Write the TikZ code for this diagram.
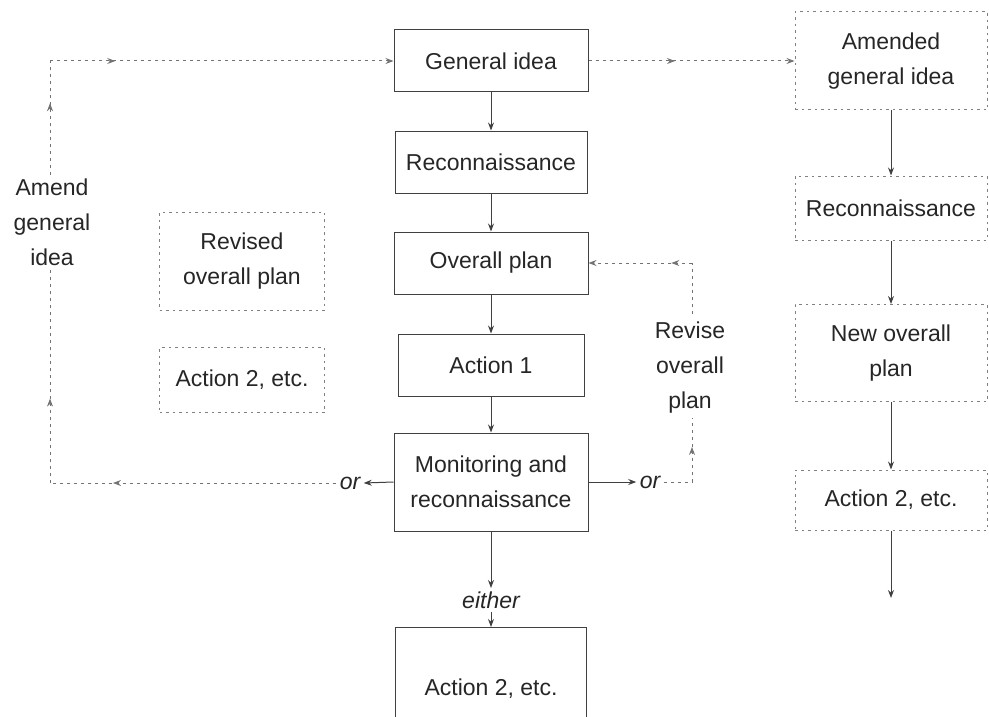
\documentclass[tikz,border=0pt]{standalone}
\usepackage{fontspec}
\setmainfont{Liberation Sans}
\usetikzlibrary{arrows.meta,decorations.markings}
\begin{document}
\begin{tikzpicture}[x=1pt,y=-1pt,
  every node/.style={font=\fontsize{23}{35}\selectfont, text=black!85, align=center},
  solidbox/.style={draw=black!75, line width=1pt, inner sep=0pt},
  dotbox/.style={draw=black!50, line width=1pt, dash pattern=on 2.5pt off 4pt, inner sep=0pt},
  tip/.style={-{Stealth[length=8pt,width=6pt]}},
  conn/.style={draw=black!75, line width=1pt, tip},
  dconn/.style={draw=black!55, line width=1pt, dash pattern=on 3pt off 4pt},
  lab/.style={font=\fontsize{23}{35}\selectfont\itshape}
]
\useasboundingbox (0,0) rectangle (989,717);

% centre column
\node[solidbox, minimum width=194pt, minimum height=62pt] (gen) at (491,61) {General idea};
\node[solidbox, minimum width=192pt, minimum height=62pt] (rec) at (491,162) {Reconnaissance};
\node[solidbox, minimum width=194pt, minimum height=62pt] (ovp) at (491,263) {Overall plan};
\node[solidbox, minimum width=186pt, minimum height=62pt] (act1) at (491,365) {Action 1};
\node[solidbox, minimum width=194pt, minimum height=98pt] (mon) at (491,482) {Monitoring and\\reconnaissance};
\node[lab] (either) at (491,600) {either};
\node[minimum width=190pt, minimum height=100pt, inner sep=0pt, anchor=north] (a2frame) at (491,627) {};
\node (a2b) at (491,689) {Action 2, etc.};
\draw[black!75, line width=1pt] (a2frame.south west) -- (a2frame.north west) -- (a2frame.north east) -- (a2frame.south east);

\draw[conn] (gen) -- (rec);
\draw[conn] (rec) -- (ovp);
\draw[conn] (ovp) -- (act1);
\draw[conn] (act1) -- (mon);
\draw[conn] (mon) -- (either);
\draw[conn] (either) -- (a2frame.north);

% left dotted boxes
\node[dotbox, minimum width=165pt, minimum height=98pt] (rop) at (242,261) {Revised\\overall plan};
\node[dotbox, minimum width=165pt, minimum height=65pt] (a2l) at (242,380) {Action 2, etc.};

% left loop
\node[lab] (orL) at (350,483) {or};
\coordinate (BL) at (50,483);
\coordinate (TL) at (50,61);
\draw[conn] (mon.west) -- (orL.east);
\draw[dconn, postaction={decorate}, decoration={markings, mark=at position 0.78 with {\arrow{Stealth[length=8pt,width=6pt]}}}] (orL.west) -- (BL);
\draw[dconn, postaction={decorate}, decoration={markings, mark=at position 0.2 with {\arrow{Stealth[length=8pt,width=6pt]}}, mark=at position 0.9 with {\arrow{Stealth[length=8pt,width=6pt]}}}] (BL) -- (TL);
\draw[dconn, tip, postaction={decorate}, decoration={markings, mark=at position 0.19 with {\arrow{Stealth[length=8pt,width=6pt]}}}] (TL) -- (gen.west);
\node[fill=white, inner sep=4pt] (amend) at (52,222) {Amend\\general\\idea};

% right loop
\node[lab] (orR) at (650,482) {or};
\coordinate (BR) at (692,482);
\coordinate (TR) at (692,263);
\draw[conn] (mon.east) -- (orR.west);
\draw[dconn] (orR.east) -- (BR);
\draw[dconn, postaction={decorate}, decoration={markings, mark=at position 0.16 with {\arrow{Stealth[length=8pt,width=6pt]}}}] (BR) -- (TR);
\draw[dconn, tip, postaction={decorate}, decoration={markings, mark=at position 0.2 with {\arrow{Stealth[length=8pt,width=6pt]}}}] (TR) -- (ovp.east);
\node[fill=white, inner sep=4pt] (revise) at (690,368) {Revise\\overall\\plan};

% right column
\node[dotbox, minimum width=192pt, minimum height=98pt] (amd) at (891,61) {Amended\\general idea};
\node[dotbox, minimum width=192pt, minimum height=64pt] (rec2) at (891,208) {Reconnaissance};
\node[dotbox, minimum width=192pt, minimum height=97pt] (nop) at (891,353) {New overall\\plan};
\node[dotbox, minimum width=192pt, minimum height=60pt] (a2r) at (891,500) {Action 2, etc.};
\coordinate (endR) at (891,598);

\draw[dconn, tip, postaction={decorate}, decoration={markings, mark=at position 0.42 with {\arrow{Stealth[length=8pt,width=6pt]}}}] (gen.east) -- (amd.west);
\draw[conn] (amd) -- (rec2);
\draw[conn] (rec2) -- (nop);
\draw[conn] (nop) -- (a2r);
\draw[conn] (a2r) -- (endR);
\end{tikzpicture}
\end{document}
